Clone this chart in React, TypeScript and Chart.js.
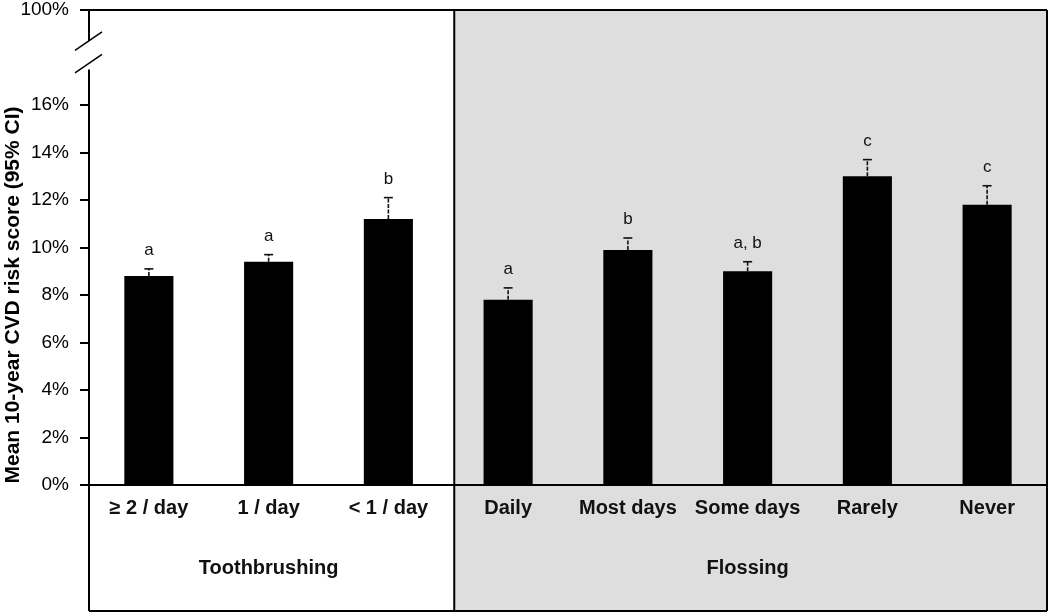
import { useEffect, useRef } from 'react';
import { Chart, registerables } from 'chart.js';

Chart.register(...registerables);

const categories = ['≥ 2 / day', '1 / day', '< 1 / day', 'Daily', 'Most days', 'Some days', 'Rarely', 'Never'];
const meanRisk = [8.8, 9.4, 11.2, 7.8, 9.9, 9.0, 13.0, 11.8];
const upperCI = [9.1, 9.7, 12.1, 8.3, 10.4, 9.4, 13.7, 12.6];
const sigLetters = ['a', 'a', 'b', 'a', 'b', 'a, b', 'c', 'c'];
const groupLabels = ['Toothbrushing', 'Flossing'];
const groupSizes = [3, 5];
const yTickValues = [0, 2, 4, 6, 8, 10, 12, 14, 16, 20];
const yTickLabels = ['0%', '2%', '4%', '6%', '8%', '10%', '12%', '14%', '16%', '100%'];
const yAxisMax = 20;
const yBreakUpper = 18.7;
const yBreakLower = 17.75;
const yTitle = 'Mean 10-year CVD risk score (95% CI)';

const FONT = "'Liberation Sans', Arial, sans-serif";

const panelPlugin = {
  id: 'panels',
  beforeDraw(chart: any) {
    const { ctx, chartArea } = chart;
    const x = chart.scales.x;
    const sepX = (x.getPixelForValue(groupSizes[0] - 1) + x.getPixelForValue(groupSizes[0])) / 2 + 6;
    ctx.save();
    ctx.fillStyle = '#dedede';
    ctx.fillRect(sepX, chartArea.top, chartArea.right - sepX, chart.height - 2 - chartArea.top);
    ctx.restore();
  },
  afterDraw(chart: any) {
    const { ctx, chartArea } = chart;
    const x = chart.scales.x;
    const y = chart.scales.y;
    const left = chartArea.left;
    const right = chartArea.right;
    const top = chartArea.top;
    const bottom = chartArea.bottom;
    const frameBottom = chart.height - 2;
    const sepX = (x.getPixelForValue(groupSizes[0] - 1) + x.getPixelForValue(groupSizes[0])) / 2 + 6;

    ctx.save();
    ctx.strokeStyle = '#000';
    ctx.lineWidth = 2;
    ctx.beginPath();
    ctx.moveTo(left, top);
    ctx.lineTo(right, top);
    ctx.moveTo(right, top);
    ctx.lineTo(right, frameBottom);
    ctx.moveTo(left, frameBottom);
    ctx.lineTo(right, frameBottom);
    ctx.moveTo(left - 9, bottom);
    ctx.lineTo(right, bottom);
    ctx.moveTo(sepX, top);
    ctx.lineTo(sepX, frameBottom);
    const b1 = y.getPixelForValue(yBreakUpper);
    const b2 = y.getPixelForValue(yBreakLower);
    ctx.moveTo(left, top);
    ctx.lineTo(left, b1);
    ctx.moveTo(left, b2 + 6);
    ctx.lineTo(left, frameBottom);
    ctx.stroke();

    ctx.lineWidth = 1.5;
    ctx.beginPath();
    [b1, b2].forEach((by) => {
      ctx.moveTo(left - 14, by + 9.5);
      ctx.lineTo(left + 13, by - 9);
    });
    ctx.stroke();

    const meta = chart.getDatasetMeta(0);
    ctx.strokeStyle = '#111';
    ctx.lineWidth = 1.6;
    meta.data.forEach((bar: any, i: number) => {
      const yTop = y.getPixelForValue(upperCI[i]);
      const yBar = y.getPixelForValue(meanRisk[i]);
      ctx.setLineDash([4, 1.5]);
      ctx.beginPath();
      ctx.moveTo(bar.x, yBar);
      ctx.lineTo(bar.x, yTop);
      ctx.stroke();
      ctx.setLineDash([]);
      ctx.beginPath();
      ctx.moveTo(bar.x - 4.5, yTop);
      ctx.lineTo(bar.x + 4.5, yTop);
      ctx.stroke();
    });

    ctx.fillStyle = '#111';
    ctx.font = `17px ${FONT}`;
    ctx.textAlign = 'center';
    ctx.textBaseline = 'alphabetic';
    meta.data.forEach((bar: any, i: number) => {
      const yTop = y.getPixelForValue(upperCI[i]);
      ctx.fillText(sigLetters[i], bar.x, yTop - 14);
    });

    ctx.font = `bold 20px ${FONT}`;
    ctx.textBaseline = 'middle';
    let start = 0;
    groupLabels.forEach((label, g) => {
      const end = start + groupSizes[g] - 1;
      const cx = (x.getPixelForValue(start) + x.getPixelForValue(end)) / 2;
      ctx.fillText(label, cx, bottom + 83);
      start = end + 1;
    });

    const cy = (y.getPixelForValue(0) + y.getPixelForValue(16)) / 2;
    ctx.translate(13, cy);
    ctx.rotate(-Math.PI / 2);
    ctx.font = `bold 21px ${FONT}`;
    ctx.fillStyle = '#000';
    ctx.fillText(yTitle, 0, 0);
    ctx.restore();
  },
};

export default function App() {
  const canvasRef = useRef<HTMLCanvasElement | null>(null);

  useEffect(() => {
    document.body.style.margin = '0';
    const canvas = canvasRef.current;
    if (!canvas) return;
    const chart = new Chart(canvas, {
      type: 'bar',
      data: {
        labels: categories,
        datasets: [
          {
            data: meanRisk,
            backgroundColor: '#000',
            borderWidth: 0,
            barPercentage: 0.41,
            categoryPercentage: 1,
          },
        ],
      },
      options: {
        animation: false,
        responsive: true,
        maintainAspectRatio: false,
        layout: { padding: { top: 10, right: 3, bottom: 0, left: 0 } },
        plugins: {
          legend: { display: false },
          tooltip: { enabled: false },
          title: { display: false },
        },
        scales: {
          x: {
            type: 'category',
            offset: true,
            grid: { display: false, drawTicks: false },
            border: { display: false },
            ticks: {
              color: '#111',
              font: { family: FONT, size: 20, weight: 'bold' },
              padding: 11,
              maxRotation: 0,
              autoSkip: false,
            },
            afterFit: (scale: any) => {
              scale.height = 128;
              scale.paddingLeft = 0;
              scale.paddingRight = 0;
            },
          },
          y: {
            type: 'linear',
            min: 0,
            max: yAxisMax,
            afterBuildTicks: (scale: any) => {
              scale.ticks = yTickValues.map((v) => ({ value: v }));
            },
            grid: {
              drawOnChartArea: false,
              drawTicks: true,
              tickLength: 9,
              color: '#000',
              lineWidth: 2,
            },
            border: { display: false },
            ticks: {
              color: '#000',
              font: { family: FONT, size: 19, lineHeight: 1 },
              padding: 11,
              callback: (value: any) => {
                const idx = yTickValues.indexOf(Number(value));
                return idx >= 0 ? yTickLabels[idx] : '';
              },
            },
            afterFit: (scale: any) => {
              scale.width = 89;
              scale.paddingTop = 0;
              scale.paddingBottom = 0;
            },
          },
        },
      },
      plugins: [panelPlugin],
    });
    return () => chart.destroy();
  }, []);

  return (
    <div style={{ width: 1050, height: 613, position: 'relative' }}>
      <canvas ref={canvasRef} />
    </div>
  );
}
